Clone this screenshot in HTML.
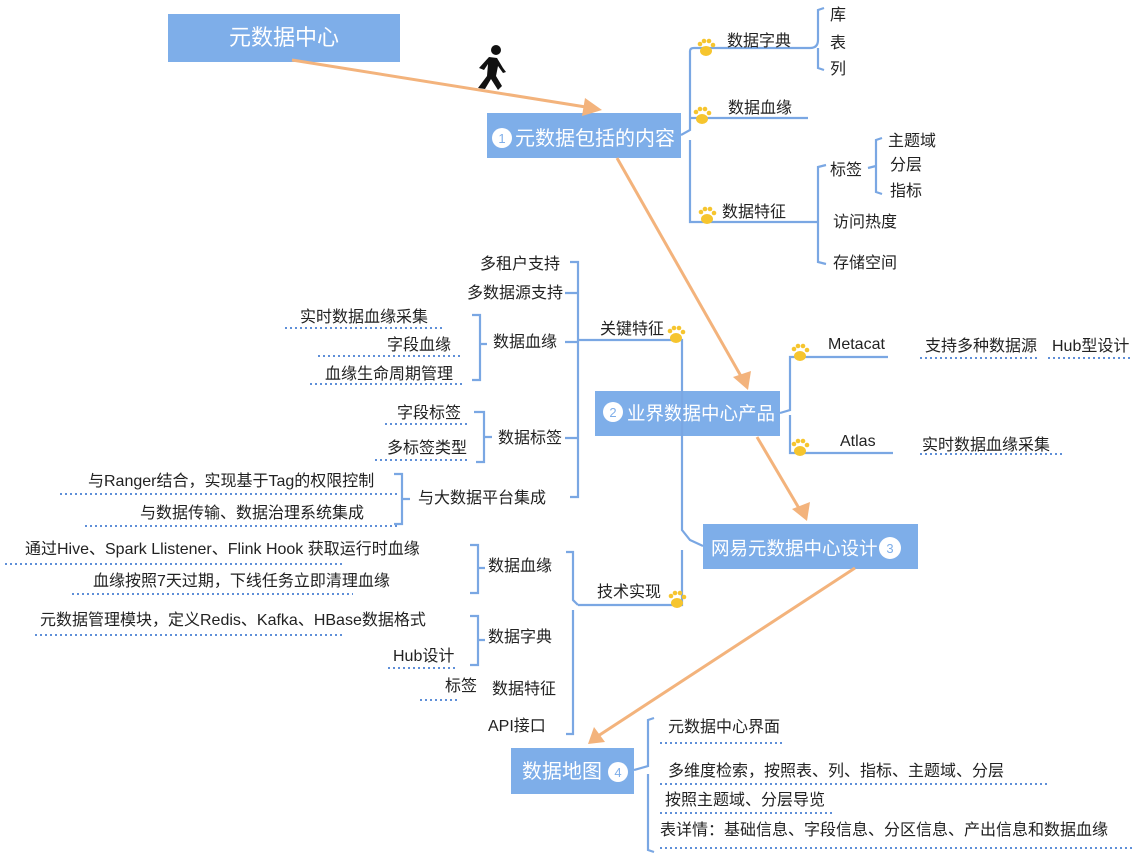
<!DOCTYPE html>
<html><head><meta charset="utf-8"><style>
html,body{margin:0;padding:0;background:#fff;}
svg{display:block}
text{font-family:"Liberation Sans","Noto Sans CJK SC",sans-serif;font-size:16px;fill:#222;}
.w{fill:#fff;font-size:20px}
.b{stroke:#7aa7e3;stroke-width:2.2;fill:none}
.d{stroke:#5f8fd8;stroke-width:2;stroke-dasharray:2 3;fill:none}
.o{stroke:#f3b37c;stroke-width:3;fill:none}
.ah{fill:#f3b37c}
.box{fill:#7eaee9}
</style></head><body>
<svg width="1142" height="857" viewBox="0 0 1142 857">
<defs>
<g id="paw"><ellipse cx="0" cy="3" rx="6" ry="5" fill="#f6c52e"/><circle cx="-6" cy="-4" r="2.3" fill="#f6c52e"/><circle cx="-2" cy="-7" r="2.3" fill="#f6c52e"/><circle cx="3" cy="-7" r="2.3" fill="#f6c52e"/><circle cx="7" cy="-3" r="2.3" fill="#f6c52e"/></g>
</defs>
<!-- boxes -->
<rect class="box" x="168" y="14" width="232" height="48"/>
<text class="w" x="284" y="45" text-anchor="middle" style="font-size:22px">元数据中心</text>
<rect class="box" x="487" y="113" width="194" height="45"/>
<circle cx="502" cy="138" r="10" fill="#fff"/><text x="502" y="143" text-anchor="middle" style="font-size:13px;fill:#7eaee9">1</text>
<text class="w" x="515" y="145">元数据包括的内容</text>
<rect class="box" x="595" y="391" width="185" height="45"/>
<circle cx="613" cy="412" r="10" fill="#fff"/><text x="613" y="417" text-anchor="middle" style="font-size:13px;fill:#7eaee9">2</text>
<text class="w" x="627" y="420" style="font-size:18.5px">业界数据中心产品</text>
<rect class="box" x="703" y="524" width="215" height="45"/>
<text class="w" x="711" y="555" style="font-size:18.5px">网易元数据中心设计</text>
<circle cx="890" cy="548" r="11" fill="#fff"/><text x="890" y="553" text-anchor="middle" style="font-size:13px;fill:#7eaee9">3</text>
<rect class="box" x="511" y="748" width="123" height="46"/>
<text class="w" x="522" y="778">数据地图</text>
<circle cx="618" cy="772" r="10" fill="#fff"/><text x="618" y="777" text-anchor="middle" style="font-size:13px;fill:#7eaee9">4</text>

<!-- orange arrows -->
<line class="o" x1="292" y1="60" x2="592" y2="108"/><polygon class="ah" points="602,110 585,98 582,116"/>
<line class="o" x1="617" y1="158" x2="742" y2="378"/><polygon class="ah" points="748,390 733,377 751,371"/>
<line class="o" x1="757" y1="437" x2="800" y2="510"/><polygon class="ah" points="807,521 792,509 810,502"/>
<line class="o" x1="855" y1="568" x2="598" y2="736"/><polygon class="ah" points="588,744 594,727 605,742"/>
<!-- person -->
<g fill="#111"><circle cx="496" cy="50" r="5"/><path d="M489 57 L497 58 L503 68 L506 72 L503 73 L498 66 L496 76 L502 86 L498 90 L491 79 L485 89 L478 88 L487 76 L488 64 L484 70 L479 68 Z"/></g>

<!-- box1 branches -->
<path class="b" d="M681 135 L690 130 L690 51 Q690 48 694 48 L810 48 M690 140 L690 222 L818 222 M690 118 L808 118"/>
<path class="b" d="M810 48 Q818 48 818 40 L818 10 L824 8 M818 48 L818 68 L824 70"/>
<use href="#paw" x="706" y="48"/><use href="#paw" x="702" y="116"/><use href="#paw" x="707" y="216"/>
<text x="727" y="46">数据字典</text><text x="830" y="20">库</text><text x="830" y="48">表</text><text x="830" y="74">列</text>
<text x="728" y="113">数据血缘</text>
<text x="722" y="217">数据特征</text>
<path class="b" d="M818 222 L818 167 L826 165 M818 222 L818 262 L826 264 M868 168 L876 166 L876 140 L882 138 M876 166 L876 192 L882 194"/>
<text x="830" y="175">标签</text><text x="833" y="227">访问热度</text><text x="833" y="268">存储空间</text>
<text x="888" y="146">主题域</text><text x="890" y="170">分层</text><text x="890" y="196">指标</text>

<!-- box2 branches -->
<path class="b" d="M780 413 L790 410 L790 357 L888 357 M790 415 L790 453 L893 453"/>
<use href="#paw" x="800" y="353"/><use href="#paw" x="800" y="448"/>
<text x="828" y="349">Metacat</text><text x="840" y="446">Atlas</text>
<text x="925" y="351">支持多种数据源</text><text x="1052" y="351">Hub型设计</text>
<text x="922" y="450">实时数据血缘采集</text>
<path class="d" d="M920 358 L1040 358 M1048 358 L1130 358 M920 454 L1062 454"/>

<!-- box3 left -->
<path class="b" d="M703 546 L690 540 L682 530 L682 340 L578 340 M682 550 L682 605 L578 605"/>
<use href="#paw" x="676" y="335"/><use href="#paw" x="677" y="600"/>
<text x="600" y="334">关键特征</text><text x="597" y="597">技术实现</text>
<path class="b" d="M578 340 L578 262 L570 262 M578 340 L578 497 L570 497 M565 293 L578 293 M565 342 L578 342 M565 438 L578 438"/>
<text x="480" y="269">多租户支持</text><text x="467" y="298">多数据源支持</text>
<text x="493" y="347">数据血缘</text><text x="498" y="443">数据标签</text><text x="418" y="503">与大数据平台集成</text>
<path class="b" d="M472 315 L480 315 L480 380 L472 380 M480 344 L487 344 M474 412 L484 412 L484 462 L476 462 M484 437 L492 437 M394 474 L402 474 L402 524 L394 524 M402 499 L410 499"/>
<text x="300" y="322">实时数据血缘采集</text><text x="387" y="350">字段血缘</text><text x="325" y="379">血缘生命周期管理</text>
<text x="397" y="418">字段标签</text><text x="387" y="453">多标签类型</text>
<text x="88" y="486">与Ranger结合，实现基于Tag的权限控制</text><text x="140" y="518">与数据传输、数据治理系统集成</text>
<path class="d" d="M285 328 L445 328 M318 356 L462 356 M310 384 L462 384 M385 424 L470 424 M375 460 L470 460 M60 494 L400 494 M85 526 L400 526"/>

<path class="b" d="M578 605 L573 600 L573 552 L566 552 M573 610 L573 734 L566 734 M470 545 L478 545 L478 593 L470 593 M478 568 L485 568 M470 616 L478 616 L478 665 L470 665 M478 640 L485 640"/>
<text x="488" y="571">数据血缘</text><text x="488" y="642">数据字典</text><text x="492" y="694">数据特征</text><text x="488" y="731">API接口</text>
<text x="25" y="554">通过Hive、Spark  Llistener、Flink Hook  获取运行时血缘</text>
<text x="93" y="586">血缘按照7天过期，下线任务立即清理血缘</text>
<text x="40" y="625">元数据管理模块，定义Redis、Kafka、HBase数据格式</text>
<text x="393" y="661">Hub设计</text><text x="445" y="691">标签</text>
<path class="d" d="M5 564 L343 564 M72 594 L353 594 M35 635 L343 635 M388 668 L455 668 M420 700 L460 700"/>

<!-- box4 right -->
<path class="b" d="M634 770 L648 766 L648 720 L654 718 M648 774 L648 850 L654 852"/>
<text x="668" y="732">元数据中心界面</text><text x="668" y="776">多维度检索，按照表、列、指标、主题域、分层</text>
<text x="665" y="805">按照主题域、分层导览</text><text x="660" y="835">表详情：基础信息、字段信息、分区信息、产出信息和数据血缘</text>
<path class="d" d="M660 743 L785 743 M660 784 L1050 784 M660 813 L832 813 M660 848 L1135 848"/>
</svg>
</body></html>
